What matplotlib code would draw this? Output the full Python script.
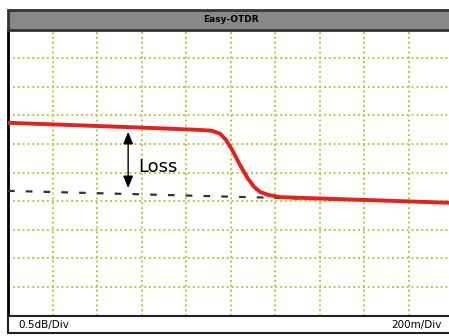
import matplotlib.pyplot as plt
from matplotlib.patches import Rectangle

# trace data (distance in km, level in dB)
trace_km = [0.0, 0.64, 0.86, 0.917, 0.953, 0.980, 1.007, 1.043, 1.079, 1.106, 1.133, 1.169, 1.222, 2.0]
trace_db = [3.37, 3.28, 3.245, 3.23, 3.18, 3.07, 2.90, 2.63, 2.39, 2.25, 2.16, 2.11, 2.07, 1.97]
ref_km = [0.0, 1.18, 2.0]
ref_db = [2.18, 2.06, 1.97]
loss_km = 0.54
loss_top, loss_bottom = 3.21, 2.23

title = 'Easy-OTDR'
y_scale = '0.5dB/Div'
x_scale = '200m/Div'

W, H = 449, 336
fig = plt.figure(figsize=(W / 100, H / 100), dpi=100)
fig.patch.set_facecolor('white')

# plot area (extends slightly past the right edge, as in the screenshot)
x0, x1 = 8, 453
y_top, y_bot = 29.5, 315.6
ax = fig.add_axes([x0 / W, (H - y_bot) / H, (x1 - x0) / W, (y_bot - y_top) / H])
ax.set_xlim(0, 2.0)
ax.set_ylim(0, 5.0)
ax.set_xticks([i * 0.2 for i in range(11)])
ax.set_yticks([i * 0.5 for i in range(11)])
ax.tick_params(length=0, labelbottom=False, labelleft=False)
ax.grid(True, color='#b5cc3a', linestyle=(0, (1, 1.5)), linewidth=1.4)
for side in ['top', 'right']:
    ax.spines[side].set_visible(False)
ax.spines['left'].set_linewidth(2)
ax.spines['bottom'].set_linewidth(1.2)

ax.plot(ref_km, ref_db, color='#333333', linestyle=(0, (3, 5)), linewidth=1.6, zorder=3)
ax.plot(trace_km, trace_db, color='#e8201a', linewidth=2.8,
        solid_joinstyle='round', solid_capstyle='butt', zorder=4)

ax.annotate('', xy=(loss_km, loss_top), xytext=(loss_km, loss_bottom),
            arrowprops=dict(arrowstyle='<|-|>,head_length=0.6,head_width=0.25',
                            color='black', lw=1.0, mutation_scale=12,
                            shrinkA=0, shrinkB=0), zorder=5)
ax.text(0.585, 2.6, 'Loss', fontsize=13, va='center', ha='left', color='black')

# title bar
fig.patches.append(Rectangle((x0 / W, (H - 30) / H), (x1 - x0) / W, 20 / H,
                             transform=fig.transFigure, facecolor='#888888',
                             edgecolor='#333333', linewidth=2, zorder=1))
fig.text((x0 + x1) / 2 / W, (H - 20) / H, title, ha='center', va='center',
         fontsize=6.5, fontweight='bold', color='black')

# bottom status bar
fig.patches.append(Rectangle((x0 / W, (H - 333) / H), (x1 - x0) / W, 17 / H,
                             transform=fig.transFigure, facecolor='white',
                             edgecolor='#222222', linewidth=1.5, zorder=1))
fig.text(18 / W, (H - 325) / H, y_scale, ha='left', va='center', fontsize=7.5,
         color='black')
fig.text(442 / W, (H - 325) / H, x_scale, ha='right', va='center', fontsize=7.5,
         color='black')

fig.savefig('out.png', dpi=100)
